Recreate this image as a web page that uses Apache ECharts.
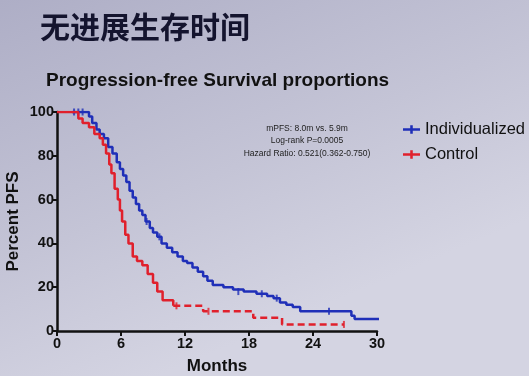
<!DOCTYPE html>
<html>
<head>
<meta charset="utf-8">
<script src="https://cdn.jsdelivr.net/npm/echarts@6/dist/echarts.min.js"></script>
<style>
  html, body { margin: 0; padding: 0; }
  #main { width: 529px; height: 376px; }
</style>
</head>
<body>
<div id="main"></div>
<script>
// PFS 曲线数据 [月, 百分比]
var individualized = [
  [1.4, 100], [3.0, 98], [3.3, 95], [3.7, 92], [4.0, 90], [4.4, 88], [4.8, 84],
  [5.2, 81], [5.6, 77], [5.9, 74], [6.2, 71], [6.5, 68], [6.8, 64], [7.1, 61],
  [7.4, 58], [7.7, 55], [8.0, 53], [8.3, 50], [8.7, 47], [9.0, 45], [9.4, 43],
  [9.8, 40], [10.3, 38], [10.8, 36], [11.3, 34], [11.8, 32], [12.2, 31],
  [12.7, 29], [13.2, 27], [13.7, 25], [14.1, 23], [14.6, 21], [15.6, 20],
  [16.5, 19], [17.5, 18], [18.7, 17], [19.7, 16], [20.3, 15], [20.9, 13],
  [21.5, 12], [22.1, 11], [22.8, 9], [27.6, 7], [27.9, 5.5], [30.3, 5.5]
];
var controlSolid = [
  [0, 100], [2.0, 97], [2.4, 95], [3.0, 93], [3.5, 90], [4.0, 88], [4.3, 85],
  [4.6, 81], [4.9, 76], [5.1, 72], [5.4, 65], [5.7, 60], [5.9, 55], [6.1, 50],
  [6.4, 44], [6.7, 40], [7.1, 34], [7.5, 32], [8.0, 30], [8.5, 26], [9.0, 22],
  [9.4, 18], [9.9, 14], [10.9, 11.5]
];
var controlDashed = [
  [10.9, 11.5], [13.7, 9], [18.4, 6], [21.1, 3], [26.9, 3]
];
var censorBlue = [[1.6, 100], [2.0, 100], [2.4, 100], [8.4, 50], [9.6, 43], [17.0, 18], [19.2, 17], [20.6, 15], [25.5, 9]];
var censorRed = [[11.2, 11.5], [14.2, 9], [26.9, 3]];
var xTicks = [0, 30, 6];
var yTicks = [0, 100, 20];

var chart = echarts.init(document.getElementById('main'));

var labelFont = { color: '#111', fontWeight: 'bold', fontSize: 14.5, fontFamily: 'Liberation Sans' };
var tickIcon = 'path://M0,3.5H20V6.5H0Z M8.5,0H11.5V10H8.5Z';

var option = {
  backgroundColor: {
    type: 'linear', x: 0, y: 0, x2: 0.3, y2: 1,
    colorStops: [
      { offset: 0, color: '#aeaec6' },
      { offset: 0.6, color: '#c4c4d6' },
      { offset: 1, color: '#d4d4e2' }
    ]
  },
  title: [
    {
      text: '无进展生存时间', left: 35, top: 7,
      textStyle: { fontSize: 30, fontWeight: 'bold', color: '#14142e', fontFamily: 'Noto Sans CJK SC' }
    },
    {
      text: 'Progression-free Survival proportions', left: 41, top: 66,
      textStyle: { fontSize: 19, fontWeight: 'bold', color: '#111', fontFamily: 'Liberation Sans' }
    }
  ],
  legend: {
    orient: 'vertical', left: 398, top: 116, itemGap: 8,
    itemWidth: 17, itemHeight: 9,
    data: [
      { name: 'Individualized', icon: tickIcon },
      { name: 'Control', icon: tickIcon }
    ],
    textStyle: { fontSize: 16.5, color: '#111', fontFamily: 'Liberation Sans' }
  },
  graphic: [{
    type: 'text', x: 307, y: 122,
    style: {
      text: 'mPFS: 8.0m vs. 5.9m\nLog-rank P=0.0005\nHazard Ratio: 0.521(0.362-0.750)',
      align: 'center', lineHeight: 12.5,
      font: '8.5px Liberation Sans', fill: '#222'
    }
  }],
  grid: { left: 57, right: 152, top: 112, bottom: 45, outerBoundsMode: 'none' },
  xAxis: {
    type: 'value', min: xTicks[0], max: xTicks[1], interval: xTicks[2],
    name: 'Months', nameLocation: 'middle', nameGap: 27,
    nameTextStyle: { color: '#111', fontWeight: 'bold', fontSize: 17, fontFamily: 'Liberation Sans' },
    axisLine: { lineStyle: { color: '#111', width: 2.5 } },
    axisTick: { length: 5, lineStyle: { width: 2 } },
    axisLabel: Object.assign({ margin: 5 }, labelFont),
    splitLine: { show: false }
  },
  yAxis: {
    type: 'value', min: yTicks[0], max: yTicks[1], interval: yTicks[2],
    name: 'Percent PFS', nameLocation: 'middle', nameGap: 35, nameMoveOverlap: false,
    nameTextStyle: { color: '#111', fontWeight: 'bold', fontSize: 17, fontFamily: 'Liberation Sans' },
    axisLine: { show: true, lineStyle: { color: '#111', width: 2.5 } },
    axisTick: { show: true, length: 5, lineStyle: { width: 2 } },
    axisLabel: Object.assign({ margin: 3 }, labelFont),
    splitLine: { show: false }
  },
  series: [
    {
      name: 'Individualized', type: 'line', step: 'end', data: individualized,
      showSymbol: false, color: '#1f2fb8', lineStyle: { width: 2.5 }
    },
    {
      name: 'Control', type: 'line', step: 'end', data: controlSolid,
      showSymbol: false, color: '#e0202c', lineStyle: { width: 2.5 }
    },
    {
      name: 'Control', type: 'line', step: 'end', data: controlDashed,
      showSymbol: false, color: '#e0202c', lineStyle: { width: 2.5, type: [7, 4] }
    },
    {
      name: 'Individualized', type: 'scatter', data: censorBlue,
      symbol: 'rect', symbolSize: [2, 7], color: '#1f2fb8'
    },
    {
      name: 'Control', type: 'scatter', data: censorRed,
      symbol: 'rect', symbolSize: [2, 7], color: '#e0202c'
    }
  ]
};

chart.setOption(option);
</script>
</body>
</html>
